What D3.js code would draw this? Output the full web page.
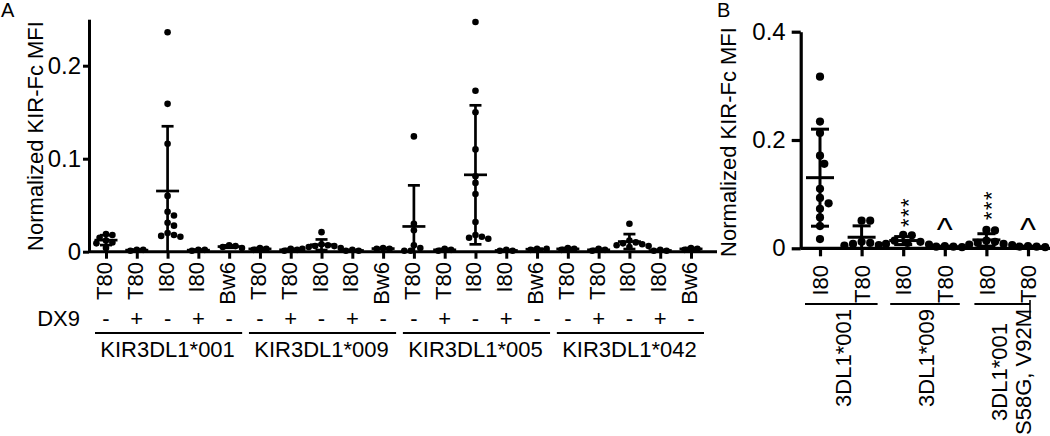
<!DOCTYPE html>
<html><head><meta charset="utf-8">
<script src="https://cdn.jsdelivr.net/npm/d3@7"></script>
<style>
body{margin:0;background:#fff;}
svg{display:block;font-family:"Liberation Sans",Arial,Helvetica,sans-serif;}
</style></head><body>
<svg id="c" width="1050" height="436"></svg>
<script>
// ---------- Panel A data ----------
const categoriesA = ["T80","T80","I80","I80","Bw6","T80","T80","I80","I80","Bw6","T80","T80","I80","I80","Bw6","T80","T80","I80","I80","Bw6"];
const dx9A = ["-","+","-","+","-","-","+","-","+","-","-","+","-","+","-","-","+","-","+","-"];
const groupsA = ["KIR3DL1*001","KIR3DL1*009","KIR3DL1*005","KIR3DL1*042"];
const yTicksA = [0, 0.1, 0.2];
const valuesA = [
  [0.019, 0.018, 0.015, 0.012, 0.010, 0.009, 0.004],
  [0.002, 0.001, 0.002],
  [0.236, 0.159, 0.116, 0.060, 0.043, 0.039, 0.031, 0.028, 0.020, 0.018, 0.017, 0.016],
  [0.002, 0.001, 0.002],
  [0.007, 0.006, 0.004, 0.005],
  [0.004, 0.002, 0.003],
  [0.003, 0.001, 0.002],
  [0.021, 0.008, 0.007, 0.006, 0.006, 0.005, 0.004, 0.003],
  [0.002, 0.001, 0.001],
  [0.003, 0.004, 0.003],
  [0.124, 0.030, 0.023, 0.007, 0.004, 0.001, 0.001],
  [0.002, 0.001, 0.003],
  [0.247, 0.173, 0.150, 0.110, 0.081, 0.074, 0.062, 0.032, 0.018, 0.016, 0.015, 0.014],
  [0.002, 0.001, 0.001],
  [0.003, 0.002, 0.003],
  [0.004, 0.003, 0.002],
  [0.002, 0.003, 0.001],
  [0.030, 0.012, 0.010, 0.009, 0.008, 0.007, 0.006, 0.005],
  [0.002, 0.001, 0.001],
  [0.003, 0.004, 0.002]
];

// ---------- Panel B data ----------
const categoriesB = ["I80","T80","I80","T80","I80","T80"];
const groupsB = [["3DL1*001"],["3DL1*009"],["3DL1*001","S58G, V92M"]];
const yTicksB = [0, 0.2, 0.4];
const marksB = ["", "", "***", "^", "***", "^"];
const valuesB = [
  [0.317, 0.234, 0.213, 0.171, 0.156, 0.110, 0.093, 0.083, 0.073, 0.057, 0.041, 0.017],
  [0.051, 0.051, 0.012, 0.010, 0.008, 0.006, 0.005],
  [0.025, 0.024, 0.014, 0.012, 0.010, 0.008, 0.007],
  [0.004, 0.003, 0.002, 0.003],
  [0.034, 0.033, 0.014, 0.012, 0.010, 0.008, 0.007, 0.006],
  [0.004, 0.003, 0.002, 0.003]
];

const svg = d3.select("#c");
const FS = 22;
const fmt = d => d === 0 ? "0" : d3.format(".1f")(d);

function swarm(vals, y, cx, coll, step) {
  const pts = vals.map(v => ({v, cy: y(v)})).sort((a, b) => a.cy - b.cy);
  const placed = [];
  for (const p of pts) {
    for (let k = 0; k < 200; k++) {
      const off = k === 0 ? 0 : (k % 2 ? 1 : -1) * Math.ceil(k / 2) * step;
      const x = cx + off;
      if (placed.every(q => (q.cx - x) ** 2 + (q.cy - p.cy) ** 2 >= coll * coll)) { p.cx = x; break; }
    }
    placed.push(p);
  }
  return placed;
}

function drawPanel(o) {
  const g = svg.append("g");
  o.values.forEach((vals, i) => {
    const cx = o.x(i);
    const pts = swarm(vals, o.y, cx, o.coll, o.step);
    g.append("g").selectAll("circle").data(pts).join("circle")
      .attr("cx", d => d.cx).attr("cy", d => d.cy).attr("r", o.r).attr("fill", "#000");
    const m = d3.mean(vals), s = d3.deviation(vals);
    const hi = m + s, lo = Math.max(0, m - s);
    const eg = g.append("g").attr("stroke", "#000").attr("stroke-width", o.esw).attr("fill", "none");
    eg.append("line").attr("x1", cx).attr("x2", cx).attr("y1", o.y(lo)).attr("y2", o.y(hi));
    eg.append("line").attr("x1", cx - o.capW / 2).attr("x2", cx + o.capW / 2).attr("y1", o.y(hi)).attr("y2", o.y(hi));
    if (m - s > 0) eg.append("line").attr("x1", cx - o.capW / 2).attr("x2", cx + o.capW / 2).attr("y1", o.y(lo)).attr("y2", o.y(lo));
    eg.append("line").attr("x1", cx - o.meanW / 2).attr("x2", cx + o.meanW / 2).attr("y1", o.y(m)).attr("y2", o.y(m));
  });
  const ya = g.append("g").attr("transform", `translate(${o.axisX},0)`)
    .call(d3.axisLeft(o.y).tickValues(o.yTicks).tickFormat(fmt).tickSize(o.yTickLen).tickSizeOuter(0).tickPadding(o.yPad));
  ya.select(".domain").attr("stroke-width", o.asw);
  ya.selectAll(".tick line").attr("stroke-width", o.asw);
  ya.selectAll("text").attr("font-size", 24).attr("font-family", null).attr("fill", "#000");
  const y0 = o.y(0);
  const xa = g.append("g").attr("transform", `translate(0,${y0})`)
    .call(d3.axisBottom(o.x).tickSize(o.xTickLen).tickSizeOuter(0).tickFormat(i => o.cats[i]));
  xa.select(".domain").remove();
  xa.selectAll(".tick line").attr("stroke-width", o.asw);
  xa.selectAll("text").attr("font-size", FS).attr("font-family", null).attr("fill", "#000")
    .attr("transform", "rotate(-90)").attr("text-anchor", "end")
    .attr("x", -(o.labEnd - y0)).attr("y", 0).attr("dy", o.labDy);
  g.append("line").attr("x1", o.axisX).attr("x2", o.axisEnd).attr("y1", y0).attr("y2", y0)
    .attr("stroke", "#000").attr("stroke-width", o.asw);
  g.append("text").attr("transform", `translate(${o.titleX},${o.titleY}) rotate(-90)`)
    .attr("text-anchor", "middle").attr("dy", "0.35em").attr("font-size", FS).text("Normalized KIR-Fc MFI");
  return g;
}

// ---------- Panel A ----------
const xA = d3.scalePoint().domain(d3.range(categoriesA.length)).range([106, 691]);
const yA = d3.scaleLinear().domain([0, 0.25]).range([251.7, 19.2]);
const gA = drawPanel({values: valuesA, cats: categoriesA, x: xA, y: yA, yTicks: yTicksA,
  r: 3.3, coll: 6.4, step: 3.2, esw: 2.7, capW: 12, meanW: 23, asw: 3,
  axisX: 89, axisEnd: 717, yTickLen: 6, yPad: 2, xTickLen: 7, labEnd: 262, labDy: "0.25em",
  titleX: 35, titleY: 136});
gA.append("text").attr("x", 1).attr("y", 17).attr("font-size", 20).text("A");
gA.append("text").attr("x", 80).attr("y", 326).attr("text-anchor", "end").attr("font-size", FS).text("DX9");
gA.append("g").selectAll("text").data(dx9A).join("text")
  .attr("x", (d, i) => xA(i)).attr("y", 326).attr("text-anchor", "middle").attr("font-size", FS).text(d => d);
groupsA.forEach((name, k) => {
  const a = xA(k * 5), b = xA(k * 5 + 4);
  gA.append("line").attr("x1", a - 11).attr("x2", b + 13).attr("y1", 333).attr("y2", 333)
    .attr("stroke", "#000").attr("stroke-width", 1.8);
  gA.append("text").attr("x", (a + b) / 2).attr("y", 357).attr("text-anchor", "middle").attr("font-size", FS).text(name);
});

// ---------- Panel B ----------
const xB = d3.scalePoint().domain(d3.range(categoriesB.length)).range([820, 1028]);
const yB = d3.scaleLinear().domain([0, 0.4]).range([248.3, 31.7]);
const gB = drawPanel({values: valuesB, cats: categoriesB, x: xB, y: yB, yTicks: yTicksB,
  r: 4.1, coll: 8.6, step: 4.3, esw: 3, capW: 18, meanW: 28, asw: 3.2,
  axisX: 800.7, axisEnd: 1050, yTickLen: 9, yPad: 6, xTickLen: 8, labEnd: 265, labDy: "0.35em",
  titleX: 728, titleY: 142});
gB.append("text").attr("x", 717).attr("y", 17).attr("font-size", 20).text("B");
marksB.forEach((mk, i) => {
  if (!mk) return;
  const cx = xB(i);
  if (mk === "***") {
    const cy = i === 4 ? 205 : 212;
    gB.append("text").attr("transform", `translate(${cx},${cy}) rotate(-90)`)
      .attr("text-anchor", "middle").attr("dy", "0.58em").attr("letter-spacing", 1.5)
      .attr("font-size", FS).text(mk);
  } else {
    gB.append("text").attr("x", cx).attr("y", 241).attr("text-anchor", "middle").attr("font-size", 34).text(mk);
  }
});
const groupLineB = [[-15, 16], [-13, 15], [-12, 2]];
groupsB.forEach((lines, k) => {
  const a = xB(k * 2), b = xB(k * 2 + 1);
  gB.append("line").attr("x1", a + groupLineB[k][0]).attr("x2", b + groupLineB[k][1]).attr("y1", 304).attr("y2", 304)
    .attr("stroke", "#000").attr("stroke-width", 1.8);
  const mid = (a + b) / 2;
  const cy = lines.length > 1 ? 372 : 358;
  lines.forEach((t, j) => {
    const cx = mid + (j - (lines.length - 1) / 2) * 24 + (lines.length > 1 ? 4 : 2);
    gB.append("text").attr("transform", `translate(${cx},${cy}) rotate(-90)`)
      .attr("text-anchor", "middle").attr("dy", "0.35em").attr("font-size", FS).text(t);
  });
  if (lines.length > 1) {
    gB.append("line").attr("x1", b + 2).attr("x2", b + 2).attr("y1", 300).attr("y2", 318)
      .attr("stroke", "#000").attr("stroke-width", 1.6);
  }
});
</script>
</body></html>
